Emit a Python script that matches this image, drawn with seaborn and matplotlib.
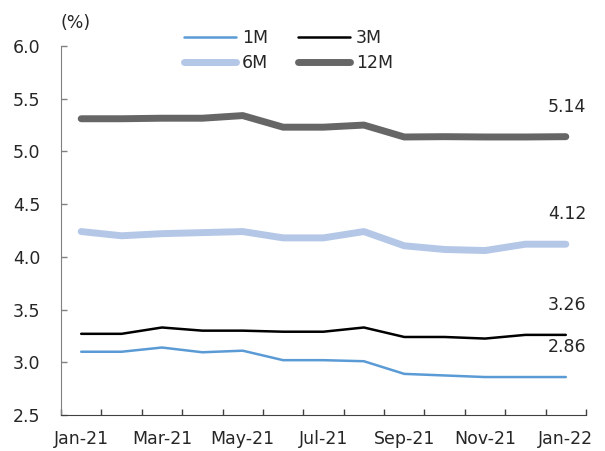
import matplotlib
matplotlib.use("Agg")
import matplotlib.pyplot as plt
from matplotlib.ticker import FixedLocator
import seaborn as sns
import pandas as pd

# data
months = ["Jan-21", "Feb-21", "Mar-21", "Apr-21", "May-21", "Jun-21", "Jul-21",
          "Aug-21", "Sep-21", "Oct-21", "Nov-21", "Dec-21", "Jan-22"]
rate_1m = [3.10, 3.10, 3.14, 3.095, 3.11, 3.02, 3.02, 3.01, 2.89, 2.875, 2.86, 2.86, 2.86]
rate_3m = [3.27, 3.27, 3.33, 3.30, 3.30, 3.29, 3.29, 3.33, 3.24, 3.24, 3.225, 3.26, 3.26]
rate_6m = [4.24, 4.20, 4.22, 4.23, 4.24, 4.18, 4.18, 4.24, 4.105, 4.07, 4.06, 4.12, 4.12]
rate_12m = [5.31, 5.31, 5.315, 5.315, 5.34, 5.23, 5.23, 5.25, 5.137, 5.14, 5.137, 5.137, 5.14]
end_labels = {"1M": "2.86", "3M": "3.26", "6M": "4.12", "12M": "5.14"}

df = pd.DataFrame({"idx": range(len(months)), "1M": rate_1m, "3M": rate_3m,
                   "6M": rate_6m, "12M": rate_12m})

sns.set_style("white")
plt.rcParams["font.family"] = ["DejaVu Sans"]
fs = 12.5

fig = plt.figure(figsize=(6.05, 4.51), dpi=100)
ax = fig.add_axes([61 / 605, 1 - 415 / 451, 525 / 605, 369 / 451])

# order chosen so the 2-column legend reads 1M 3M / 6M 12M
styles = [("1M", "#5B9BD5", 1.8), ("6M", "#B4C7E7", 5.0),
          ("3M", "#000000", 1.8), ("12M", "#666666", 5.0)]
for name, col, lw in styles:
    sns.lineplot(data=df, x="idx", y=name, ax=ax, color=col, linewidth=lw,
                 label=name, solid_capstyle="round")

# value labels above the last point
for name, txt in end_labels.items():
    ax.annotate(txt, (len(months) - 1, df[name].iloc[-1]), xytext=(1, 21.5),
                textcoords="offset points", ha="center", va="center", fontsize=fs)

ax.set_xlim(-0.5, len(months) - 0.5)
ax.set_ylim(2.5, 6.0)
ax.set_yticks([2.5, 3.0, 3.5, 4.0, 4.5, 5.0, 5.5, 6.0])
ax.set_yticklabels([f"{v:.1f}" for v in ax.get_yticks()])
ax.set_xticks(range(0, len(months), 2))
ax.set_xticklabels(months[::2])
ax.xaxis.set_minor_locator(FixedLocator([i - 0.5 for i in range(len(months) + 1)]))
ax.tick_params(axis="x", which="major", bottom=False, length=0, pad=11, labelsize=fs)
ax.tick_params(axis="x", which="minor", bottom=True, direction="in", length=4,
               width=1, color="#404040")
ax.tick_params(axis="y", left=True, direction="in", length=4, width=1,
               color="#808080", labelsize=fs, pad=15)
ax.set_xlabel("")
ax.set_ylabel("")

for s in ["top", "right"]:
    ax.spines[s].set_visible(False)
ax.spines["left"].set_color("#808080")
ax.spines["bottom"].set_color("#404040")

fig.text(60 / 605, 1 - 23 / 451, "(%)", fontsize=fs, ha="left", va="center")

ax.legend(ncol=2, loc="upper left", bbox_to_anchor=(184 / 605, 1 - 29 / 451),
          bbox_transform=fig.transFigure, frameon=False, borderpad=0, borderaxespad=0,
          handlelength=3.0, columnspacing=1.7, handletextpad=0.35, labelspacing=0.4,
          fontsize=fs)

fig.savefig("out.png", dpi=100)
